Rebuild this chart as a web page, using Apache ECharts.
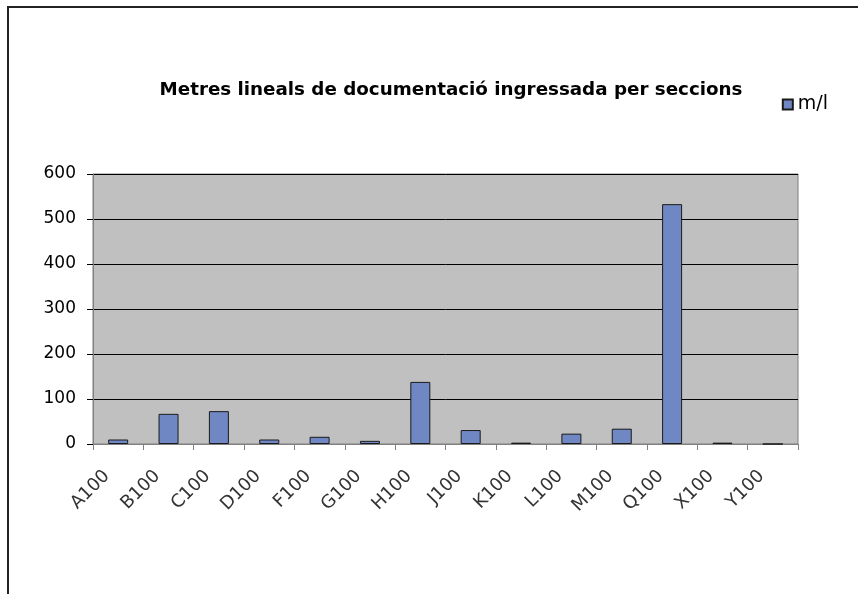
<!DOCTYPE html>
<html lang="ca">
<head>
  <meta charset="UTF-8">
  <title>Metres lineals per seccions</title>
  <script src="https://cdn.jsdelivr.net/npm/echarts@6/dist/echarts.min.js"></script>
  <style>
    body { margin: 0; background: #fff; }
    #frame {
      position: absolute; left: 7px; top: 6px; width: 860px; height: 600px;
      border-top: 2px solid #222; border-left: 2px solid #222;
    }
    #chart { position: absolute; left: 0; top: 0; width: 858px; height: 594px; }
  </style>
</head>
<body>
  <div id="frame"></div>
  <div id="chart"></div>
  <script>
    // seccions i metres lineals
    const seccions = ['A100', 'B100', 'C100', 'D100', 'F100', 'G100', 'H100',
                      'J100', 'K100', 'L100', 'M100', 'Q100', 'X100', 'Y100'];
    const metres = [10, 67, 73, 10, 16, 7, 138, 31, 3, 23, 34, 533, 3, 0];
    const yTicks = [0, 100, 200, 300, 400, 500, 600];

    const font = 'DejaVu Sans, Verdana, sans-serif';
    const chart = echarts.init(document.getElementById('chart'));
    chart.setOption({
      animation: false,
      title: {
        text: 'Metres lineals de documentació ingressada per seccions',
        left: 446, top: 76, textAlign: 'center',
        textStyle: { fontFamily: font, fontWeight: 'bold', fontSize: 18.3, color: '#000' }
      },
      legend: {
        right: 25, top: 90,
        itemWidth: 10, itemHeight: 10, itemGap: 4,
        textStyle: { fontFamily: font, fontSize: 19, color: '#000' },
        data: [{ name: 'm/l', icon: 'rect' }]
      },
      grid: { left: 93, right: 60, top: 174, bottom: 150, show: true,
              backgroundColor: '#c0c0c0', borderColor: '#808080', borderWidth: 1 },
      xAxis: {
        type: 'category', data: seccions,
        axisLine: { lineStyle: { color: '#808080', width: 1 } },
        axisTick: { show: true, length: 6, lineStyle: { color: '#808080' } },
        axisLabel: { rotate: 45, margin: 18, padding: [0, 16, 0, 0],
                     fontFamily: font, fontSize: 18, color: '#333' }
      },
      yAxis: {
        type: 'value', min: yTicks[0], max: yTicks[yTicks.length - 1], interval: 100,
        axisLine: { show: true, lineStyle: { color: '#808080' } },
        axisTick: { show: true, length: 6, lineStyle: { color: '#000' } },
        axisLabel: { margin: 17, fontFamily: font, fontSize: 17, color: '#000' },
        splitLine: { lineStyle: { color: '#000', width: 1 } }
      },
      series: [{
        name: 'm/l', type: 'bar', data: metres, barWidth: 20,
        itemStyle: { color: '#6f87c3', borderColor: '#1a1a1a', borderWidth: 1 }
      }]
    });
  </script>
</body>
</html>
